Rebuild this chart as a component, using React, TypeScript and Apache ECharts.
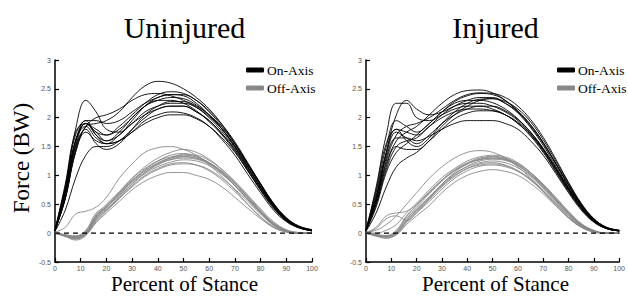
import React, { useEffect, useRef } from "react";
import * as echarts from "echarts";

// Percent of stance sample positions
const X = [0, 4, 8, 12, 16, 20, 25, 30, 35, 40, 45, 50, 55, 60, 65, 70, 75, 80, 85, 90, 95, 100];
const X_TICKS = [0, 10, 20, 30, 40, 50, 60, 70, 80, 90, 100];
const Y_TICKS = ["-0.5", "0", "0.5", "1", "1.5", "2", "2.5", "3"];
const PANEL_TITLES = ["Uninjured", "Injured"];
const LEGEND_NAMES = ["On-Axis", "Off-Axis"];

// Uninjured, on-axis (black)
const uninjuredOn: number[][] = [
  [0.05, 0.8, 1.8, 2.3, 2.1, 1.8, 1.75, 1.9, 2.05, 2.15, 2.2, 2.2, 2.1, 1.95, 1.72, 1.45, 1.1, 0.75, 0.45, 0.22, 0.1, 0.04],
  [0.05, 0.6, 1.4, 1.85, 1.9, 1.95, 2.1, 2.35, 2.55, 2.63, 2.6, 2.5, 2.35, 2.15, 1.88, 1.55, 1.2, 0.85, 0.5, 0.25, 0.1, 0.05],
  [0.04, 0.65, 1.5, 1.9, 1.75, 1.6, 1.7, 1.95, 2.2, 2.35, 2.4, 2.38, 2.25, 2.05, 1.8, 1.5, 1.15, 0.8, 0.48, 0.24, 0.1, 0.05],
  [0.03, 0.4, 0.95, 1.35, 1.5, 1.5, 1.6, 1.8, 2.0, 2.15, 2.2, 2.2, 2.1, 1.95, 1.72, 1.45, 1.12, 0.78, 0.46, 0.22, 0.1, 0.04],
  [0.06, 0.75, 1.6, 1.9, 1.7, 1.55, 1.6, 1.75, 1.95, 2.05, 2.1, 2.08, 2.0, 1.85, 1.62, 1.35, 1.02, 0.7, 0.4, 0.2, 0.09, 0.05],
  [0.05, 0.7, 1.55, 1.95, 1.95, 1.9, 1.95, 2.1, 2.25, 2.35, 2.4, 2.4, 2.3, 2.12, 1.88, 1.58, 1.22, 0.86, 0.52, 0.26, 0.12, 0.06],
  [0.05, 0.8, 1.7, 1.95, 1.7, 1.6, 1.75, 2.0, 2.2, 2.3, 2.3, 2.25, 2.12, 1.93, 1.7, 1.42, 1.08, 0.74, 0.43, 0.21, 0.09, 0.04],
  [0.05, 0.6, 1.45, 1.85, 2.0, 2.05, 2.15, 2.3, 2.4, 2.42, 2.38, 2.3, 2.18, 2.0, 1.76, 1.48, 1.14, 0.8, 0.48, 0.24, 0.11, 0.05],
  [0.04, 0.7, 1.6, 1.85, 1.65, 1.55, 1.7, 1.9, 2.1, 2.2, 2.25, 2.25, 2.18, 2.02, 1.8, 1.52, 1.18, 0.83, 0.5, 0.25, 0.11, 0.05],
  [0.05, 0.75, 1.6, 1.9, 1.8, 1.7, 1.8, 2.0, 2.2, 2.3, 2.35, 2.33, 2.22, 2.04, 1.8, 1.5, 1.15, 0.8, 0.47, 0.23, 0.1, 0.04],
  [0.04, 0.6, 1.4, 1.75, 1.6, 1.55, 1.6, 1.75, 1.9, 2.0, 2.05, 2.05, 1.98, 1.85, 1.65, 1.4, 1.08, 0.76, 0.45, 0.22, 0.1, 0.04],
  [0.06, 0.85, 1.75, 1.9, 1.75, 1.7, 1.85, 2.05, 2.25, 2.4, 2.45, 2.42, 2.3, 2.1, 1.85, 1.55, 1.2, 0.84, 0.5, 0.25, 0.11, 0.05],
  [0.05, 0.7, 1.5, 1.8, 1.55, 1.45, 1.55, 1.8, 2.05, 2.2, 2.28, 2.28, 2.2, 2.05, 1.83, 1.55, 1.2, 0.85, 0.52, 0.27, 0.12, 0.06],
];

// Uninjured, off-axis (gray)
const uninjuredOff: number[][] = [
  [0.02, 0.1, 0.33, 0.38, 0.45, 0.62, 0.95, 1.2, 1.4, 1.48, 1.5, 1.45, 1.35, 1.18, 0.98, 0.75, 0.5, 0.28, 0.1, 0.02, 0.0, 0.0],
  [0.0, -0.04, -0.06, 0.02, 0.3, 0.48, 0.7, 0.92, 1.1, 1.25, 1.35, 1.38, 1.33, 1.22, 1.05, 0.82, 0.58, 0.35, 0.15, 0.04, 0.0, 0.0],
  [0.02, -0.05, -0.1, -0.02, 0.22, 0.4, 0.6, 0.82, 1.0, 1.12, 1.2, 1.22, 1.18, 1.08, 0.92, 0.72, 0.5, 0.28, 0.12, 0.03, 0.0, 0.0],
  [0.0, -0.05, -0.08, -0.03, 0.18, 0.35, 0.55, 0.75, 0.9, 1.0, 1.05, 1.05, 1.0, 0.93, 0.8, 0.62, 0.43, 0.25, 0.1, 0.02, 0.0, 0.0],
  [0.01, -0.03, -0.05, 0.05, 0.35, 0.45, 0.68, 0.9, 1.08, 1.22, 1.3, 1.33, 1.3, 1.2, 1.03, 0.82, 0.58, 0.35, 0.15, 0.04, 0.0, 0.0],
  [0.0, -0.06, -0.12, -0.04, 0.25, 0.45, 0.65, 0.88, 1.05, 1.18, 1.28, 1.32, 1.3, 1.22, 1.06, 0.86, 0.62, 0.38, 0.17, 0.05, 0.0, 0.0],
  [0.01, -0.04, -0.07, 0.0, 0.28, 0.45, 0.7, 0.95, 1.15, 1.3, 1.4, 1.45, 1.4, 1.28, 1.1, 0.88, 0.63, 0.38, 0.16, 0.04, 0.0, 0.0],
  [0.0, -0.05, -0.09, -0.02, 0.2, 0.38, 0.6, 0.8, 0.98, 1.1, 1.18, 1.2, 1.18, 1.1, 0.95, 0.76, 0.55, 0.33, 0.14, 0.03, 0.0, 0.0],
  [0.02, -0.03, -0.06, 0.03, 0.32, 0.5, 0.72, 0.95, 1.12, 1.25, 1.32, 1.35, 1.32, 1.22, 1.07, 0.87, 0.64, 0.4, 0.18, 0.05, 0.01, 0.0],
  [0.0, -0.04, -0.08, 0.0, 0.26, 0.42, 0.62, 0.85, 1.03, 1.15, 1.23, 1.27, 1.25, 1.17, 1.02, 0.82, 0.59, 0.36, 0.16, 0.04, 0.0, 0.0],
  [0.01, -0.05, -0.1, -0.01, 0.3, 0.45, 0.66, 0.9, 1.08, 1.2, 1.27, 1.3, 1.28, 1.2, 1.05, 0.84, 0.6, 0.37, 0.16, 0.04, 0.0, 0.0],
  [0.0, -0.03, -0.05, 0.02, 0.24, 0.4, 0.62, 0.85, 1.05, 1.2, 1.3, 1.36, 1.35, 1.26, 1.1, 0.9, 0.66, 0.42, 0.2, 0.06, 0.01, 0.0],
];

// Injured, on-axis (black)
const injuredOn: number[][] = [
  [0.05, 0.8, 1.7, 2.25, 2.25, 2.0, 1.95, 2.05, 2.15, 2.2, 2.2, 2.15, 2.05, 1.9, 1.68, 1.4, 1.06, 0.72, 0.42, 0.2, 0.08, 0.04],
  [0.05, 0.55, 1.2, 1.6, 1.75, 1.85, 2.05, 2.25, 2.4, 2.47, 2.48, 2.43, 2.3, 2.1, 1.85, 1.55, 1.2, 0.83, 0.5, 0.24, 0.1, 0.04],
  [0.04, 0.5, 1.1, 1.5, 1.6, 1.65, 1.85, 2.05, 2.2, 2.3, 2.35, 2.35, 2.25, 2.08, 1.83, 1.52, 1.16, 0.8, 0.47, 0.22, 0.09, 0.04],
  [0.05, 0.6, 1.3, 1.65, 1.65, 1.6, 1.68, 1.8, 1.9, 1.95, 1.95, 1.95, 1.9, 1.8, 1.6, 1.35, 1.03, 0.7, 0.4, 0.19, 0.08, 0.04],
  [0.06, 0.7, 1.5, 1.95, 1.85, 1.75, 1.9, 2.1, 2.25, 2.3, 2.3, 2.26, 2.15, 1.98, 1.75, 1.46, 1.12, 0.76, 0.44, 0.2, 0.08, 0.04],
  [0.03, 0.35, 0.8, 1.15, 1.3, 1.4, 1.6, 1.85, 2.05, 2.2, 2.3, 2.33, 2.28, 2.15, 1.93, 1.62, 1.25, 0.87, 0.51, 0.25, 0.1, 0.05],
  [0.05, 0.65, 1.4, 1.8, 1.75, 1.7, 1.85, 2.0, 2.1, 2.15, 2.15, 2.12, 2.05, 1.9, 1.7, 1.42, 1.08, 0.74, 0.43, 0.2, 0.08, 0.04],
  [0.05, 0.55, 1.25, 1.7, 1.85, 1.9, 2.0, 2.15, 2.3, 2.4, 2.43, 2.42, 2.35, 2.2, 1.97, 1.66, 1.28, 0.88, 0.52, 0.25, 0.1, 0.05],
  [0.04, 0.6, 1.35, 1.75, 1.65, 1.55, 1.7, 1.9, 2.05, 2.15, 2.2, 2.2, 2.12, 1.97, 1.75, 1.47, 1.13, 0.78, 0.46, 0.22, 0.09, 0.04],
  [0.05, 0.6, 1.4, 2.05, 2.3, 2.15, 2.05, 2.1, 2.2, 2.25, 2.25, 2.2, 2.1, 1.95, 1.72, 1.44, 1.1, 0.75, 0.44, 0.21, 0.08, 0.04],
  [0.05, 0.5, 1.15, 1.5, 1.45, 1.45, 1.6, 1.8, 1.98, 2.08, 2.12, 2.12, 2.05, 1.92, 1.72, 1.45, 1.12, 0.78, 0.46, 0.22, 0.09, 0.04],
  [0.06, 0.75, 1.55, 1.8, 1.6, 1.5, 1.65, 1.9, 2.1, 2.25, 2.32, 2.33, 2.25, 2.1, 1.87, 1.57, 1.21, 0.84, 0.49, 0.24, 0.1, 0.05],
  [0.04, 0.45, 1.05, 1.4, 1.55, 1.7, 1.9, 2.1, 2.28, 2.38, 2.42, 2.4, 2.3, 2.12, 1.88, 1.57, 1.2, 0.83, 0.49, 0.23, 0.09, 0.04],
];

// Injured, off-axis (gray)
const injuredOff: number[][] = [
  [0.02, 0.05, 0.15, 0.3, 0.5, 0.7, 0.95, 1.15, 1.3, 1.4, 1.43, 1.4, 1.3, 1.15, 0.95, 0.72, 0.48, 0.26, 0.1, 0.02, 0.0, 0.0],
  [0.01, 0.1, 0.3, 0.35, 0.38, 0.5, 0.72, 0.92, 1.08, 1.2, 1.27, 1.3, 1.27, 1.17, 1.0, 0.8, 0.56, 0.33, 0.13, 0.03, 0.0, 0.0],
  [0.0, 0.08, 0.25, 0.3, 0.22, 0.35, 0.6, 0.85, 1.05, 1.2, 1.28, 1.32, 1.28, 1.18, 1.02, 0.82, 0.58, 0.35, 0.15, 0.04, 0.0, 0.0],
  [0.0, -0.04, -0.06, 0.0, 0.2, 0.38, 0.58, 0.8, 0.98, 1.12, 1.2, 1.22, 1.18, 1.08, 0.92, 0.72, 0.5, 0.28, 0.11, 0.02, 0.0, 0.0],
  [0.0, -0.05, -0.08, -0.03, 0.15, 0.3, 0.48, 0.7, 0.88, 1.0, 1.07, 1.1, 1.07, 1.0, 0.86, 0.68, 0.47, 0.27, 0.11, 0.02, 0.0, 0.0],
  [0.01, -0.03, -0.05, 0.03, 0.28, 0.45, 0.68, 0.9, 1.08, 1.2, 1.28, 1.3, 1.28, 1.2, 1.05, 0.85, 0.62, 0.38, 0.17, 0.05, 0.0, 0.0],
  [0.0, -0.04, -0.07, 0.0, 0.22, 0.4, 0.62, 0.82, 1.0, 1.12, 1.18, 1.2, 1.17, 1.08, 0.94, 0.75, 0.53, 0.31, 0.13, 0.03, 0.0, 0.0],
  [0.01, -0.02, -0.04, 0.05, 0.3, 0.48, 0.7, 0.92, 1.1, 1.22, 1.3, 1.33, 1.3, 1.2, 1.04, 0.83, 0.59, 0.36, 0.15, 0.04, 0.0, 0.0],
  [0.0, -0.05, -0.09, -0.02, 0.18, 0.35, 0.55, 0.76, 0.95, 1.08, 1.16, 1.18, 1.15, 1.07, 0.92, 0.73, 0.51, 0.3, 0.12, 0.03, 0.0, 0.0],
  [0.02, 0.0, 0.05, 0.15, 0.35, 0.52, 0.75, 0.96, 1.12, 1.25, 1.32, 1.35, 1.32, 1.22, 1.05, 0.84, 0.6, 0.36, 0.15, 0.04, 0.0, 0.0],
  [0.0, -0.04, -0.06, 0.02, 0.25, 0.42, 0.63, 0.85, 1.03, 1.15, 1.22, 1.25, 1.22, 1.13, 0.98, 0.78, 0.55, 0.33, 0.14, 0.03, 0.0, 0.0],
  [0.01, -0.03, -0.05, 0.0, 0.22, 0.4, 0.6, 0.83, 1.02, 1.16, 1.25, 1.28, 1.26, 1.17, 1.01, 0.81, 0.58, 0.35, 0.15, 0.04, 0.0, 0.0],
];

const ZERO_LINE = [0, 0];

const SERIF = "'Liberation Serif', 'Times New Roman', serif";
const SANS = "'Liberation Sans', Arial, sans-serif";

export default function App() {
  const ref = useRef<HTMLDivElement>(null);

  useEffect(() => {
    if (!ref.current) return;
    const chart = echarts.init(ref.current, null, { renderer: "svg" });

    const grids = [
      { left: 55, top: 60, width: 257, height: 202 },
      { left: 366, top: 60, width: 257, height: 202 },
    ];

    const xAxes = grids.map((_, i) => ({
      type: "value",
      gridIndex: i,
      min: X_TICKS[0],
      max: X_TICKS[X_TICKS.length - 1],
      interval: 10,
      splitLine: { show: false },
      axisLine: { onZero: false, lineStyle: { color: "#000", width: 1.5 } },
      axisTick: { inside: true, length: 4, lineStyle: { color: "#000", width: 1.2 } },
      axisLabel: { fontSize: 7, color: "#555", fontFamily: SANS, margin: 3 },
    }));

    const yAxes = grids.map((_, i) => ({
      type: "value",
      gridIndex: i,
      min: Number(Y_TICKS[0]),
      max: Number(Y_TICKS[Y_TICKS.length - 1]),
      interval: 0.5,
      splitLine: { show: false },
      axisLine: { show: true, onZero: false, lineStyle: { color: "#000", width: 1.5 } },
      axisTick: { show: true, inside: true, length: 4, lineStyle: { color: "#000", width: 1.2 } },
      axisLabel: {
        fontSize: 7,
        color: "#555",
        fontFamily: SANS,
        margin: 4,
        formatter: (v: number) => String(Math.round(v * 10) / 10),
      },
    }));

    const series: any[] = [];
    const panels = [
      { on: uninjuredOn, off: uninjuredOff },
      { on: injuredOn, off: injuredOff },
    ];
    panels.forEach((p, gi) => {
      p.off.forEach((arr) => {
        series.push({
          type: "line",
          name: LEGEND_NAMES[1],
          xAxisIndex: gi,
          yAxisIndex: gi,
          data: X.map((x, k) => [x, arr[k]]),
          showSymbol: false,
          symbol: "none",
          smooth: 0.4,
          color: "#888",
          lineStyle: { color: "#888", width: 0.9 },
          silent: true,
        });
      });
      p.on.forEach((arr) => {
        series.push({
          type: "line",
          name: LEGEND_NAMES[0],
          xAxisIndex: gi,
          yAxisIndex: gi,
          data: X.map((x, k) => [x, arr[k]]),
          showSymbol: false,
          symbol: "none",
          smooth: 0.4,
          color: "#000",
          lineStyle: { color: "#000", width: 0.9 },
          silent: true,
        });
      });
      series.push({
        type: "line",
        name: "zero",
        xAxisIndex: gi,
        yAxisIndex: gi,
        data: [
          [X_TICKS[0], ZERO_LINE[0]],
          [X_TICKS[X_TICKS.length - 1], ZERO_LINE[1]],
        ],
        symbol: "none",
        color: "#000",
        lineStyle: { color: "#000", width: 1.3, type: [5, 4] },
        silent: true,
        z: 5,
      });
    });

    const legends = grids.map((g) => ({
      data: LEGEND_NAMES,
      orient: "vertical",
      left: g.left + 186,
      top: 58,
      itemWidth: 18,
      itemHeight: 5,
      itemGap: 4,
      icon: "roundRect",
      selectedMode: false,
      textStyle: { fontFamily: SERIF, fontSize: 13.5, color: "#000", padding: [0, 0, 0, -2] },
    }));

    const graphic: any[] = [];
    grids.forEach((g, i) => {
      graphic.push({
        type: "text",
        x: g.left + g.width / 2 + 1,
        y: 27,
        style: {
          text: PANEL_TITLES[i],
          font: `30px ${SERIF}`,
          fill: "#000",
          align: "center",
          verticalAlign: "middle",
        },
      });
      graphic.push({
        type: "text",
        x: g.left + g.width / 2 + 1,
        y: 284,
        style: {
          text: "Percent of Stance",
          font: `21px ${SERIF}`,
          fill: "#000",
          align: "center",
          verticalAlign: "middle",
        },
      });
    });
    graphic.push({
      type: "text",
      x: 21,
      y: 158,
      rotation: Math.PI / 2,
      style: {
        text: "Force (BW)",
        font: `23px ${SERIF}`,
        fill: "#000",
        align: "center",
        verticalAlign: "middle",
      },
    });

    chart.setOption({
      animation: false,
      backgroundColor: "#fff",
      grid: grids,
      xAxis: xAxes,
      yAxis: yAxes,
      legend: legends,
      series,
      graphic,
    });

    return () => chart.dispose();
  }, []);

  return (
    <div
      ref={ref}
      style={{ position: "fixed", left: 0, top: 0, width: 628, height: 297 }}
    />
  );
}
